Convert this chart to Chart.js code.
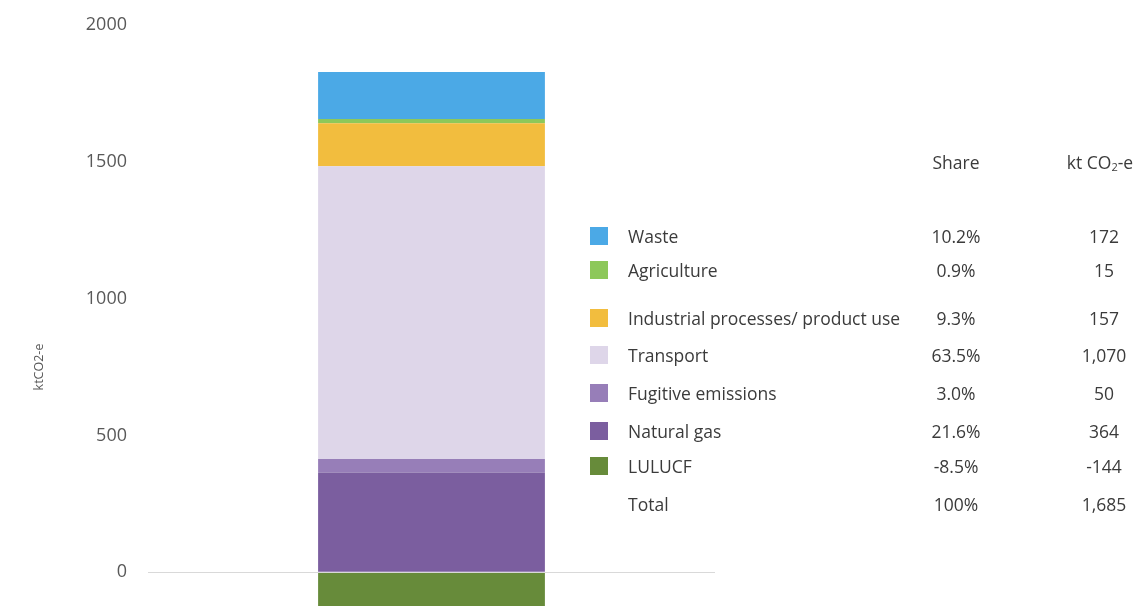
<!DOCTYPE html>
<html>
<head>
<meta charset="utf-8">
<script src="https://cdn.jsdelivr.net/npm/chart.js@4.4.1/dist/chart.umd.min.js"></script>
<style>
  html, body { margin: 0; padding: 0; background: #ffffff; overflow: hidden; width: 1141px; height: 606px; }
  #wrap { position: relative; width: 1141px; height: 720px; }
  #c { position: absolute; left: 0; top: 0; width: 1141px; height: 720px; }
  .lg { position: absolute; font-family: "Open Sans", sans-serif; font-size: 17.5px; color: #3b3b3b; line-height: 22px; white-space: nowrap; }
  .sw { position: absolute; width: 18px; height: 18px; }
  .c1 { transform: translateX(-50%); text-align: center; }
  sub.s { font-size: 11px; vertical-align: -2px; line-height: 0; }
</style>
</head>
<body>
<div id="wrap">
  <canvas id="c" width="1141" height="720"></canvas>
  <div id="legend"></div>
</div>
<script>
// ---- data (top-level arrays) ----
const categories = ['Waste', 'Agriculture', 'Industrial processes/ product use', 'Transport', 'Fugitive emissions', 'Natural gas', 'LULUCF'];
const shares = ['10.2%', '0.9%', '9.3%', '63.5%', '3.0%', '21.6%', '-8.5%'];
const values = [172, 15, 157, 1070, 50, 364, -144];
const totalLabel = 'Total';
const totalShare = '100%';
const totalValue = 1685;
const yTicks = [0, 500, 1000, 1500, 2000];

// ---- styles ----
const colors = ['#4BA9E6', '#8DC85A', '#F2BD3E', '#DED6E9', '#977EB8', '#7B5E9F', '#678B3A'];
const rowY = [236, 270, 318, 355, 393, 431, 466, 504];

// datasets: bottom of stack first
const datasets = categories.map((name, i) => ({
  label: name,
  data: [values[i]],
  backgroundColor: colors[i],
  borderWidth: 0,
  barPercentage: 0.4,
  categoryPercentage: 1.0
})).reverse();

new Chart(document.getElementById('c'), {
  type: 'bar',
  data: { labels: [''], datasets: datasets },
  options: {
    responsive: false,
    animation: false,
    layout: { padding: { top: 25, bottom: 11, left: 0, right: 426 } },
    plugins: { legend: { display: false }, tooltip: { enabled: false } },
    scales: {
      x: { stacked: true, display: false },
      y: {
        stacked: true,
        min: -500,
        max: 2000,
        afterBuildTicks: (scale) => { scale.ticks = yTicks.map(v => ({ value: v })); },
        afterFit: (scale) => { scale.width = 148; scale.paddingTop = 0; scale.paddingBottom = 0; },
        border: { display: false },
        grid: {
          z: 1,
          drawTicks: false,
          lineWidth: 1,
          color: (ctx) => (ctx.tick && ctx.tick.value === 0) ? '#d9d9d9' : 'rgba(0,0,0,0)'
        },
        ticks: {
          padding: 21,
          color: '#595959',
          font: { family: 'Open Sans', size: 18 },
          callback: (v) => String(v)
        },
        title: {
          display: true,
          text: 'ktCO2-e',
          color: '#595959',
          font: { family: 'Open Sans', size: 12.5 },
          padding: { top: 32, bottom: 0 }
        }
      }
    }
  }
});

// ---- legend table ----
const lg = document.getElementById('legend');
function addText(txt, x, yc, cls, html) {
  const d = document.createElement('div');
  d.className = 'lg ' + (cls || '');
  if (html) d.innerHTML = txt; else d.textContent = txt;
  d.style.left = x + 'px';
  d.style.top = (yc - 11) + 'px';
  lg.appendChild(d);
}
addText('Share', 956, 162, 'c1');
addText('kt CO<sub class="s">2</sub>-e', 1100, 162, 'c1', true);
categories.forEach((name, i) => {
  const sw = document.createElement('div');
  sw.className = 'sw';
  sw.style.left = '590px';
  sw.style.top = (rowY[i] - 9) + 'px';
  sw.style.background = colors[i];
  lg.appendChild(sw);
  addText(name, 628, rowY[i]);
  addText(shares[i], 956, rowY[i], 'c1');
  addText(values[i].toLocaleString('en-US'), 1104, rowY[i], 'c1');
});
addText(totalLabel, 628, rowY[7]);
addText(totalShare, 956, rowY[7], 'c1');
addText(totalValue.toLocaleString('en-US'), 1104, rowY[7], 'c1');
</script>
</body>
</html>
